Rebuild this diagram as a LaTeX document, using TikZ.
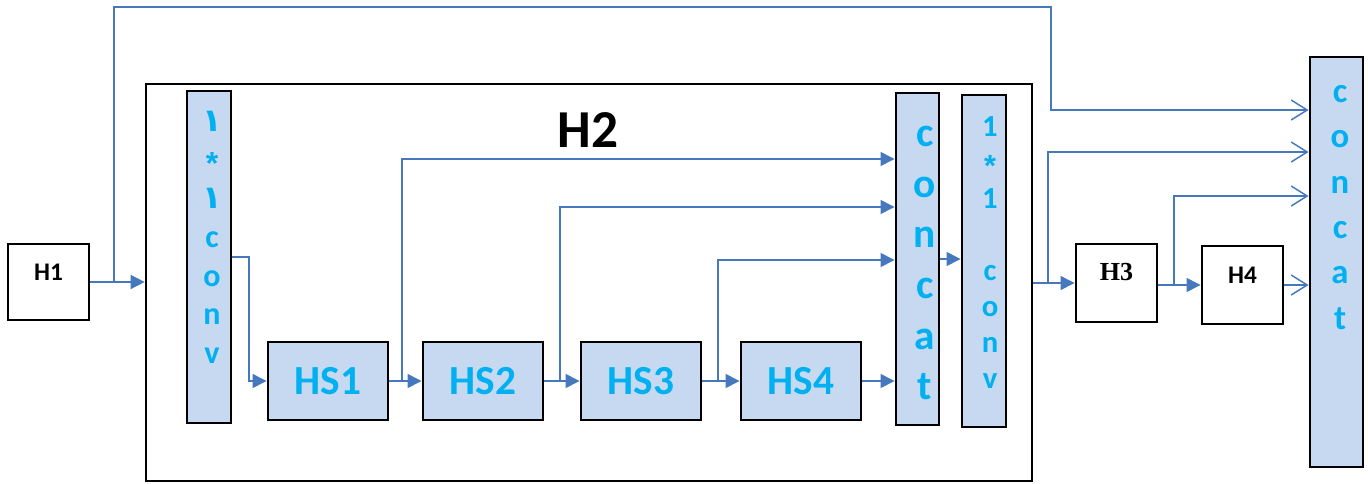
\documentclass[tikz,border=0pt]{standalone}
\usepackage{fontspec}
\setmainfont{Carlito}
\newfontfamily\arfont{DejaVu Sans}
\newfontfamily\timesf{Liberation Serif}
\newfontfamily\arialf{Liberation Sans}
\usetikzlibrary{arrows.meta}
\definecolor{lnblue}{RGB}{70,120,190}
\definecolor{boxfill}{RGB}{198,217,241}
\definecolor{txtcyan}{RGB}{0,176,240}
\newcommand{\bigast}{\raisebox{-0.25ex}{\arialf\bfseries *}}
\tikzset{
  sz/.style 2 args={minimum width=#1*0.75pt, minimum height=#2*0.75pt},
  wbox/.style={draw=black, line width=2.2pt, fill=white, inner sep=0pt},
  bbox/.style={draw=black, line width=2.2pt, fill=boxfill, inner sep=0pt},
  outer/.style={draw=black, line width=2pt, inner sep=0pt},
  hstext/.style={font=\fontsize{31}{36}\selectfont\bfseries, text=txtcyan},
  vtext/.style={align=center, text=txtcyan, inner sep=0pt},
  ln/.style={draw=lnblue, line width=1.1pt},
  fa/.style={ln, -{Triangle[length=10.5pt,width=10.5pt]}},
  oa/.style={ln, -{Straight Barb[length=12pt,width=15pt,line width=1.1pt]}},
}
\begin{document}
\begin{tikzpicture}[x=0.75pt,y=-0.75pt]
\useasboundingbox (0,0) rectangle (1368,483);
% outer H2 box
\node[outer, sz={886}{397}] (H2box) at (589,282.5) {};
\node[font=\fontsize{40}{48}\selectfont\bfseries] (H2t) at (588,130) {H2};
% boxes
\node[wbox, sz={81}{76}, text depth=20*0.75pt, font=\fontsize{19}{22}\selectfont\bfseries] (H1) at (48.5,282) {H1};
\node[bbox, sz={44}{332}] (conv1) at (209,257) {};
\node[bbox, sz={120}{78}, hstext] (HS1) at (328,381) {HS1};
\node[bbox, sz={120}{78}, hstext] (HS2) at (483,381) {HS2};
\node[bbox, sz={120}{78}, hstext] (HS3) at (641,381) {HS3};
\node[bbox, sz={120}{78}, hstext] (HS4) at (801,381) {HS4};
\node[bbox, sz={43}{332}] (concat1) at (917.5,259) {};
\node[bbox, sz={44}{332}] (conv2) at (984,261) {};
\node[wbox, sz={81}{78}, text depth=22*0.75pt, font=\fontsize{19.5}{23}\selectfont\timesf\bfseries] (H3) at (1116.5,283) {H3};
\node[wbox, sz={81}{78}, text depth=20*0.75pt, font=\fontsize{19}{23}\selectfont\bfseries] (H4) at (1242.5,285) {H4};
\node[bbox, sz={53}{410}] (concat2) at (1336.5,262) {};
% vertical texts
\node[vtext, font=\fontsize{24}{29}\selectfont\bfseries] (conv1t) at (212,237.5) {{\arfont\bfseries ١}\\\bigast\\{\arfont\bfseries ١}\\c\\o\\n\\v};
\node[vtext, font=\fontsize{23}{27}\selectfont\bfseries] (conv2t) at (990,253) {1\\\bigast\\1\\\mbox{}\\c\\o\\n\\v};
\node[vtext, font=\fontsize{31}{38}\selectfont\bfseries] (concat1t) at (925,263) {c\\o\\n\\c\\a\\t};
\node[vtext, font=\fontsize{26}{34}\selectfont\bfseries] (concat2t) at (1340,207.5) {c\\o\\n\\c\\a\\t};
% coordinates
\coordinate (s1) at (114,282);
\coordinate (c1) at (1051,7);
\coordinate (b1) at (402,381);
\coordinate (b2) at (560,381);
\coordinate (b3) at (718,381);
\coordinate (s3) at (1048,283);
\coordinate (s4) at (1174,285);
% connectors
\draw[fa] (H1.east) -- (H1.east -| H2box.west);
\draw[oa] (s1) |- (c1) |- (concat2.west |- 0,110);
\draw[fa] (conv1.east |- 0,257) -- (249,257) |- (HS1.west);
\draw[fa] (HS1) -- (HS2);
\draw[fa] (b1) |- (concat1.west |- 0,159);
\draw[fa] (HS2) -- (HS3);
\draw[fa] (b2) |- (concat1.west |- 0,207);
\draw[fa] (HS3) -- (HS4);
\draw[fa] (b3) |- (concat1.west |- 0,260);
\draw[fa] (HS4.east) -- (HS4.east -| concat1.west);
\draw[fa] (concat1.east) -- (concat1.east -| conv2.west);
\draw[fa] (H2box.east |- s3) -- (H3.west |- s3);
\draw[oa] (s3) |- (concat2.west |- 0,152);
\draw[fa] (H3.east |- s4) -- (H4.west |- s4);
\draw[oa] (s4) |- (concat2.west |- 0,196);
\draw[oa] (H4.east) -- (H4.east -| concat2.west);
\end{tikzpicture}
\end{document}
